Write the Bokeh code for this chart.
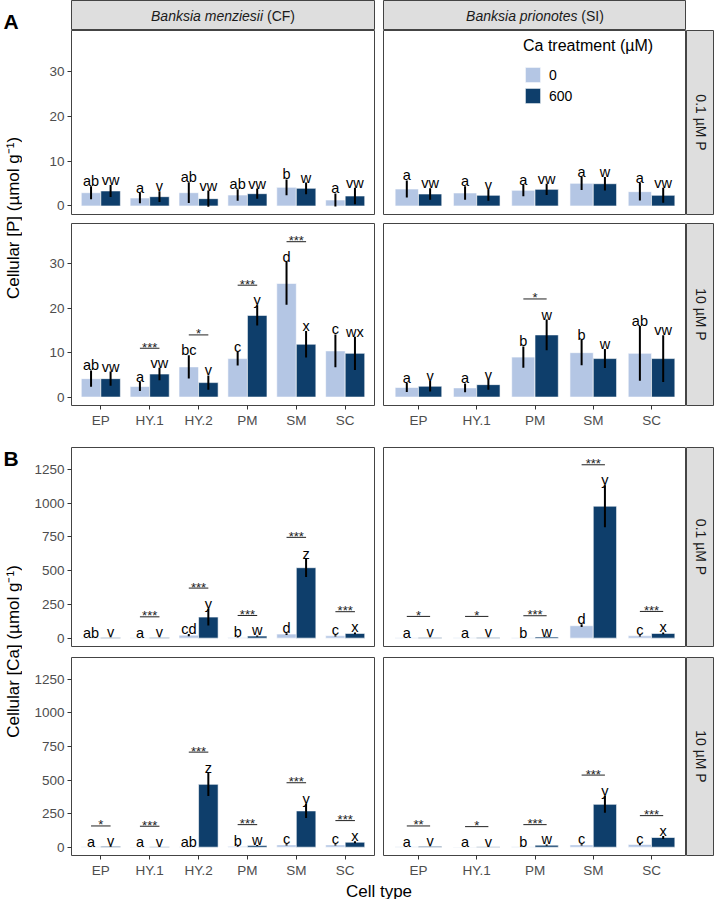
import math
from bokeh.plotting import figure
from bokeh.models import ColumnDataSource, FactorRange, Range1d, FixedTicker, Legend, LegendItem
from bokeh.layouts import row, column
from bokeh.transform import dodge
from bokeh.core.properties import value
from bokeh.embed import file_html
from bokeh.resources import INLINE

# ---------------- data ----------------
cells_men = ["EP", "HY.1", "HY.2", "PM", "SM", "SC"]
cells_pri = ["EP", "HY.1", "PM", "SM", "SC"]
species_names = ["Banksia menziesii", "Banksia prionotes"]
species_codes = ["(CF)", "(SI)"]
p_levels = ["0.1 µM P", "10 µM P"]
ca_levels = ["0", "600"]
legend_title = "Ca treatment (µM)"
ytitle_P = "Cellular [P] (µmol g⁻¹)"
ytitle_Ca = "Cellular [Ca] (µmol g⁻¹)"
xtitle = "Cell type"
yticks_P = [0, 10, 20, 30]
yticks_Ca = [0, 250, 500, 750, 1000, 1250]

# Panel A: cellular [P]
P_men_01_ca0 = [2.95, 1.78, 2.96, 2.44, 4.15, 1.33]
P_men_01_ca0_se = [1.45, 1.15, 2.3, 1.26, 1.75, 1.47]
P_men_01_ca600 = [3.35, 2.07, 1.63, 2.74, 3.93, 2.22]
P_men_01_ca600_se = [1.35, 1.2, 1.8, 1.15, 1.3, 1.85]
P_men_01_let0 = ["ab", "a", "ab", "ab", "b", "a"]
P_men_01_let600 = ["vw", "v", "vw", "vw", "w", "vw"]
P_men_01_sig_cells, P_men_01_sig_y, P_men_01_sig = [], [], []

P_pri_01_ca0 = [3.78, 2.9, 3.48, 5.04, 3.19]
P_pri_01_ca0_se = [1.9, 1.5, 1.3, 1.5, 1.97]
P_pri_01_ca600 = [2.67, 2.37, 3.7, 4.96, 2.37]
P_pri_01_ca600_se = [1.3, 1.2, 1.25, 1.5, 1.67]
P_pri_01_let0 = ["a", "a", "a", "a", "a"]
P_pri_01_let600 = ["vw", "v", "vw", "w", "vw"]
P_pri_01_sig_cells, P_pri_01_sig_y, P_pri_01_sig = [], [], []

P_men_10_ca0 = [4.15, 2.37, 6.8, 8.67, 25.6, 10.4]
P_men_10_ca0_se = [1.85, 1.0, 2.6, 1.55, 4.8, 3.7]
P_men_10_ca600 = [4.15, 5.19, 3.26, 18.4, 11.9, 9.85]
P_men_10_ca600_se = [1.6, 1.4, 1.6, 2.3, 3.0, 3.75]
P_men_10_let0 = ["ab", "a", "bc", "c", "d", "c"]
P_men_10_let600 = ["vw", "vw", "v", "y", "x", "wx"]
P_men_10_sig_cells = ["HY.1", "HY.2", "PM", "SM"]
P_men_10_sig_y = [11.0, 14.0, 25.2, 35.0]
P_men_10_sig = ["***", "*", "***", "***"]

P_pri_10_ca0 = [2.15, 2.07, 9.0, 10.0, 9.85]
P_pri_10_ca0_se = [1.0, 1.0, 2.4, 2.85, 6.15]
P_pri_10_ca600 = [2.44, 2.8, 14.0, 8.67, 8.67]
P_pri_10_ca600_se = [1.2, 1.15, 3.45, 2.15, 5.25]
P_pri_10_let0 = ["a", "a", "b", "b", "ab"]
P_pri_10_let600 = ["v", "v", "w", "w", "vw"]
P_pri_10_sig_cells = ["PM"]
P_pri_10_sig_y = [22.1]
P_pri_10_sig = ["*"]

# Panel B: cellular [Ca]
Ca_men_01_ca0 = [3, 2, 22, 4, 30, 17]
Ca_men_01_ca0_se = [1, 1, 8, 2, 7, 5]
Ca_men_01_ca600 = [5, 4, 156, 15, 522, 35]
Ca_men_01_ca600_se = [1, 1, 62, 5, 68, 7]
Ca_men_01_let0 = ["ab", "a", "cd", "b", "d", "c"]
Ca_men_01_let600 = ["v", "v", "y", "w", "z", "x"]
Ca_men_01_sig_cells = ["HY.1", "HY.2", "PM", "SM", "SC"]
Ca_men_01_sig_y = [158, 371, 168, 747, 196]
Ca_men_01_sig = ["***", "***", "***", "***", "***"]

Ca_pri_01_ca0 = [3, 2, 3, 92, 17]
Ca_pri_01_ca0_se = [1, 1, 1, 10, 4]
Ca_pri_01_ca600 = [5, 4, 9, 978, 35]
Ca_pri_01_ca600_se = [1, 1, 3, 156, 7]
Ca_pri_01_let0 = ["a", "a", "b", "d", "c"]
Ca_pri_01_let600 = ["v", "v", "w", "y", "x"]
Ca_pri_01_sig_cells = ["EP", "HY.1", "PM", "SM", "SC"]
Ca_pri_01_sig_y = [161, 161, 166, 1285, 198]
Ca_pri_01_sig = ["*", "*", "***", "***", "***"]

Ca_men_10_ca0 = [3, 2, 4, 6, 17, 17]
Ca_men_10_ca0_se = [1, 1, 1, 2, 5, 4]
Ca_men_10_ca600 = [6, 4, 468, 13, 270, 37]
Ca_men_10_ca600_se = [2, 1, 87, 4, 53, 8]
Ca_men_10_let0 = ["a", "a", "ab", "b", "c", "c"]
Ca_men_10_let600 = ["v", "v", "z", "w", "y", "x"]
Ca_men_10_sig_cells = ["EP", "HY.1", "HY.2", "PM", "SM", "SC"]
Ca_men_10_sig_y = [158, 156, 708, 168, 480, 198]
Ca_men_10_sig = ["*", "***", "***", "***", "***", "***"]

Ca_pri_10_ca0 = [3, 2, 4, 17, 20]
Ca_pri_10_ca0_se = [1, 1, 1, 5, 5]
Ca_pri_10_ca600 = [6, 4, 15, 319, 72]
Ca_pri_10_ca600_se = [1, 1, 5, 62, 12]
Ca_pri_10_let0 = ["a", "a", "b", "c", "c"]
Ca_pri_10_let600 = ["v", "v", "w", "y", "x"]
Ca_pri_10_sig_cells = ["EP", "HY.1", "PM", "SM", "SC"]
Ca_pri_10_sig_y = [158, 153, 168, 537, 235]
Ca_pri_10_sig = ["**", "*", "***", "***", "***"]

# ---------------- style / layout ----------------
FONT = "Liberation Sans"
LIGHT = "#B4C6E4"
DARK = "#0E3E6B"
BORDER = "#444444"
STRIP = "#DEDEDE"
TICKTXT = "#4D4D4D"

YT = 22      # y-title column
LB = 49      # left border for y tick labels
FW = 303     # facet frame width
GAP = 9      # gap between facet columns
ST = 28      # strip thickness
STH = 30     # top strip height
A1H, A2H, RG_A, AXB_A = 184, 182, 9, 42
B1H, B2H, RG_B, AXB_B = 199, 198, 11, 26
XTH = 18

YR_P = (-1.9, 39.1)
YR_CA = (-62, 1413)

# Arial/Liberation Sans advance widths (per 1000 em) for strip-label centring
CW = {" ": 278, "(": 333, ")": 333, "B": 667, "C": 722, "F": 611, "S": 667, "I": 278,
      "a": 556, "n": 556, "k": 500, "s": 500, "i": 222, "m": 833, "e": 556, "z": 500,
      "p": 556, "r": 333, "o": 556, "t": 278}


def twidth(s, size):
    return sum(CW.get(c, 556) for c in s) * size / 1000.0


def style_axes(p):
    for ax in p.axis:
        ax.axis_line_color = None
        ax.major_tick_line_color = "#333333"
        ax.major_tick_out = 4
        ax.major_tick_in = 0
        ax.minor_tick_line_color = None
        ax.major_label_text_font = FONT
        ax.major_label_text_font_size = "13.5px"
        ax.major_label_text_color = TICKTXT
        ax.major_label_standoff = 3


def make_facet(cells, m0, s0, m1, s1, l0, l1, sc, sy, sl, yr, yticks, fh, bb, left, xaxis):
    w = FW + (LB + GAP if left else 0)
    p = figure(width=w, height=fh + bb,
               x_range=FactorRange(factors=cells, range_padding=0.1, range_padding_units="absolute"),
               y_range=Range1d(*yr),
               x_axis_location="below" if xaxis else None,
               y_axis_location="left" if left else None,
               output_backend="svg", toolbar_location=None,
               min_border_left=LB if left else 0, min_border_right=GAP if left else 0,
               min_border_top=0, min_border_bottom=bb)
    p.grid.grid_line_color = None
    p.outline_line_color = BORDER
    p.outline_line_width = 1
    p.background_fill_color = "white"
    p.border_fill_color = "white"
    if left:
        p.yaxis.ticker = FixedTicker(ticks=yticks)
    style_axes(p)

    src = ColumnDataSource(dict(
        cell=cells, m0=m0, m1=m1,
        lo0=[m - s for m, s in zip(m0, s0)], hi0=[m + s for m, s in zip(m0, s0)],
        lo1=[m - s for m, s in zip(m1, s1)], hi1=[m + s for m, s in zip(m1, s1)],
        l0=l0, l1=l1))
    x0 = dodge("cell", -0.2, range=p.x_range)
    x1 = dodge("cell", 0.2, range=p.x_range)
    r0 = p.vbar(x=x0, top="m0", width=0.4, source=src, fill_color=LIGHT,
                line_color="white", line_width=0.6)
    r1 = p.vbar(x=x1, top="m1", width=0.4, source=src, fill_color=DARK,
                line_color="white", line_width=0.6)
    p.segment(x0=x0, y0="lo0", x1=x0, y1="hi0", source=src, line_color="black", line_width=2)
    p.segment(x0=x1, y0="lo1", x1=x1, y1="hi1", source=src, line_color="black", line_width=2)
    for xx, yy, tt in ((x0, "hi0", "l0"), (x1, "hi1", "l1")):
        p.text(x=xx, y=yy, text=tt, source=src, text_align="center", text_baseline="alphabetic",
               y_offset=-5, text_font=value(FONT), text_font_size="14.5px", text_color="black")
    if sc:
        ssrc = ColumnDataSource(dict(cell=sc, y=sy, lab=sl))
        p.segment(x0=dodge("cell", -0.2, range=p.x_range), y0="y",
                  x1=dodge("cell", 0.2, range=p.x_range), y1="y", source=ssrc,
                  line_color="#222222", line_width=1)
        p.text(x="cell", y="y", text="lab", source=ssrc, text_align="center",
               text_baseline="alphabetic", y_offset=-1, text_font=value(FONT),
               text_font_size="13px", text_color="#222222")
    return p, r0, r1


def blank_fig(w, h, fill=None, outline=None, mb=(0, 0, 0, 0)):
    p = figure(width=w, height=h, x_range=Range1d(0, 1), y_range=Range1d(0, 1),
               x_axis_location=None, y_axis_location=None,
               output_backend="svg", toolbar_location=None,
               min_border_left=mb[0], min_border_right=mb[1],
               min_border_top=mb[2], min_border_bottom=mb[3])
    p.grid.grid_line_color = None
    p.outline_line_color = outline
    p.background_fill_color = fill if fill else "white"
    p.border_fill_color = "white"
    return p


def top_strip(name, code, left):
    w = FW + (LB + GAP if left else 0)
    p = blank_fig(w, STH, fill=STRIP, outline=BORDER,
                  mb=(LB if left else 0, GAP if left else 0, 0, 0))
    size = 14
    w_it = twidth(name, size)
    w_nm = twidth(" " + code, size)
    off = (w_it - w_nm) / 2.0
    p.text(x=[0.5], y=[0.5], text=[name], text_align="right", text_baseline="middle",
           x_offset=off, text_font=value(FONT), text_font_style="italic",
           text_font_size="14px", text_color="#1A1A1A")
    p.text(x=[0.5], y=[0.5], text=[code], text_align="left", text_baseline="middle",
           x_offset=off + twidth(" ", size), text_font=value(FONT),
           text_font_size="14px", text_color="#1A1A1A")
    return p


def right_strip(label, fh, bb):
    p = blank_fig(ST, fh + bb, fill=STRIP, outline=BORDER, mb=(0, 0, 0, bb))
    p.text(x=[0.5], y=[0.5], text=[label], text_align="center", text_baseline="middle",
           angle=-math.pi / 2, text_font=value(FONT), text_font_size="14px",
           text_color="#1A1A1A")
    return p


# ---------------- panel A ----------------
a1L, _, _ = make_facet(cells_men, P_men_01_ca0, P_men_01_ca0_se, P_men_01_ca600, P_men_01_ca600_se,
                       P_men_01_let0, P_men_01_let600, P_men_01_sig_cells, P_men_01_sig_y, P_men_01_sig,
                       YR_P, yticks_P, A1H, RG_A, True, False)
a1R, lr0, lr1 = make_facet(cells_pri, P_pri_01_ca0, P_pri_01_ca0_se, P_pri_01_ca600, P_pri_01_ca600_se,
                           P_pri_01_let0, P_pri_01_let600, P_pri_01_sig_cells, P_pri_01_sig_y, P_pri_01_sig,
                           YR_P, yticks_P, A1H, RG_A, False, False)
a2L, _, _ = make_facet(cells_men, P_men_10_ca0, P_men_10_ca0_se, P_men_10_ca600, P_men_10_ca600_se,
                       P_men_10_let0, P_men_10_let600, P_men_10_sig_cells, P_men_10_sig_y, P_men_10_sig,
                       YR_P, yticks_P, A2H, AXB_A, True, True)
a2R, _, _ = make_facet(cells_pri, P_pri_10_ca0, P_pri_10_ca0_se, P_pri_10_ca600, P_pri_10_ca600_se,
                       P_pri_10_let0, P_pri_10_let600, P_pri_10_sig_cells, P_pri_10_sig_y, P_pri_10_sig,
                       YR_P, yticks_P, A2H, AXB_A, False, True)

legend = Legend(items=[LegendItem(label=ca_levels[0], renderers=[lr0]),
                       LegendItem(label=ca_levels[1], renderers=[lr1])],
                title=legend_title, location=(140, A1H - 75),
                title_text_font=FONT, title_text_font_size="16px", title_text_font_style="normal",
                title_text_color="black", title_standoff=10,
                label_text_font=FONT, label_text_font_size="14px", label_text_color="black",
                glyph_width=19, glyph_height=19, label_standoff=7, spacing=2,
                padding=0, margin=0, background_fill_alpha=0, border_line_alpha=0)
a1R.add_layout(legend)

sAL = top_strip(species_names[0], species_codes[0], True)
sAR = top_strip(species_names[1], species_codes[1], False)
rA1 = right_strip(p_levels[0], A1H, RG_A)
rA2 = right_strip(p_levels[1], A2H, AXB_A)

HA = STH + A1H + RG_A + A2H + AXB_A
yA = figure(width=YT, height=HA, x_range=Range1d(0, YT), y_range=Range1d(0, HA),
            x_axis_location=None, y_axis_location=None, output_backend="svg",
            toolbar_location=None, min_border_left=0, min_border_right=0,
            min_border_top=0, min_border_bottom=0)
yA.grid.grid_line_color = None
yA.outline_line_color = None
yA.text(x=[YT * 0.6], y=[HA - (STH + (A1H + RG_A + A2H) / 2.0)], text=[ytitle_P], angle=math.pi / 2,
        text_align="center", text_baseline="middle", text_font=value(FONT),
        text_font_size="17px", text_color="black")
yA.text(x=[3], y=[HA - 9], text=["A"], text_align="left", text_baseline="top",
        text_font=value(FONT), text_font_style="bold", text_font_size="21px", text_color="black")

# ---------------- panel B ----------------
b1L, _, _ = make_facet(cells_men, Ca_men_01_ca0, Ca_men_01_ca0_se, Ca_men_01_ca600, Ca_men_01_ca600_se,
                       Ca_men_01_let0, Ca_men_01_let600, Ca_men_01_sig_cells, Ca_men_01_sig_y, Ca_men_01_sig,
                       YR_CA, yticks_Ca, B1H, RG_B, True, False)
b1R, _, _ = make_facet(cells_pri, Ca_pri_01_ca0, Ca_pri_01_ca0_se, Ca_pri_01_ca600, Ca_pri_01_ca600_se,
                       Ca_pri_01_let0, Ca_pri_01_let600, Ca_pri_01_sig_cells, Ca_pri_01_sig_y, Ca_pri_01_sig,
                       YR_CA, yticks_Ca, B1H, RG_B, False, False)
b2L, _, _ = make_facet(cells_men, Ca_men_10_ca0, Ca_men_10_ca0_se, Ca_men_10_ca600, Ca_men_10_ca600_se,
                       Ca_men_10_let0, Ca_men_10_let600, Ca_men_10_sig_cells, Ca_men_10_sig_y, Ca_men_10_sig,
                       YR_CA, yticks_Ca, B2H, AXB_B, True, True)
b2R, _, _ = make_facet(cells_pri, Ca_pri_10_ca0, Ca_pri_10_ca0_se, Ca_pri_10_ca600, Ca_pri_10_ca600_se,
                       Ca_pri_10_let0, Ca_pri_10_let600, Ca_pri_10_sig_cells, Ca_pri_10_sig_y, Ca_pri_10_sig,
                       YR_CA, yticks_Ca, B2H, AXB_B, False, True)
rB1 = right_strip(p_levels[0], B1H, RG_B)
rB2 = right_strip(p_levels[1], B2H, AXB_B)

HB = B1H + RG_B + B2H + AXB_B
yB = figure(width=YT, height=HB, x_range=Range1d(0, YT), y_range=Range1d(0, HB),
            x_axis_location=None, y_axis_location=None, output_backend="svg",
            toolbar_location=None, min_border_left=0, min_border_right=0,
            min_border_top=0, min_border_bottom=0)
yB.grid.grid_line_color = None
yB.outline_line_color = None
yB.text(x=[YT * 0.6], y=[HB - (B1H + RG_B + B2H) / 2.0], text=[ytitle_Ca], angle=math.pi / 2,
        text_align="center", text_baseline="middle", text_font=value(FONT),
        text_font_size="17px", text_color="black")
yB.text(x=[3], y=[HB + 1], text=["B"], text_align="left", text_baseline="top",
        text_font=value(FONT), text_font_style="bold", text_font_size="21px", text_color="black")

TW = YT + LB + FW + GAP + FW + ST
xt = figure(width=TW, height=XTH, x_range=Range1d(0, TW), y_range=Range1d(0, XTH),
            x_axis_location=None, y_axis_location=None, output_backend="svg",
            toolbar_location=None, min_border_left=0, min_border_right=0,
            min_border_top=0, min_border_bottom=0)
xt.grid.grid_line_color = None
xt.outline_line_color = None
xt.text(x=[YT + LB + (2 * FW + GAP) / 2.0], y=[XTH], text=[xtitle], text_align="center",
        text_baseline="top", text_font=value(FONT), text_font_size="17px", text_color="black")

blockA = row(yA, column(row(sAL, sAR), row(a1L, a1R, rA1), row(a2L, a2R, rA2)))
blockB = row(yB, column(row(b1L, b1R, rB1), row(b2L, b2R, rB2)))
page = column(blockA, blockB, xt)

open("out.html", "w").write(file_html(page, INLINE))
